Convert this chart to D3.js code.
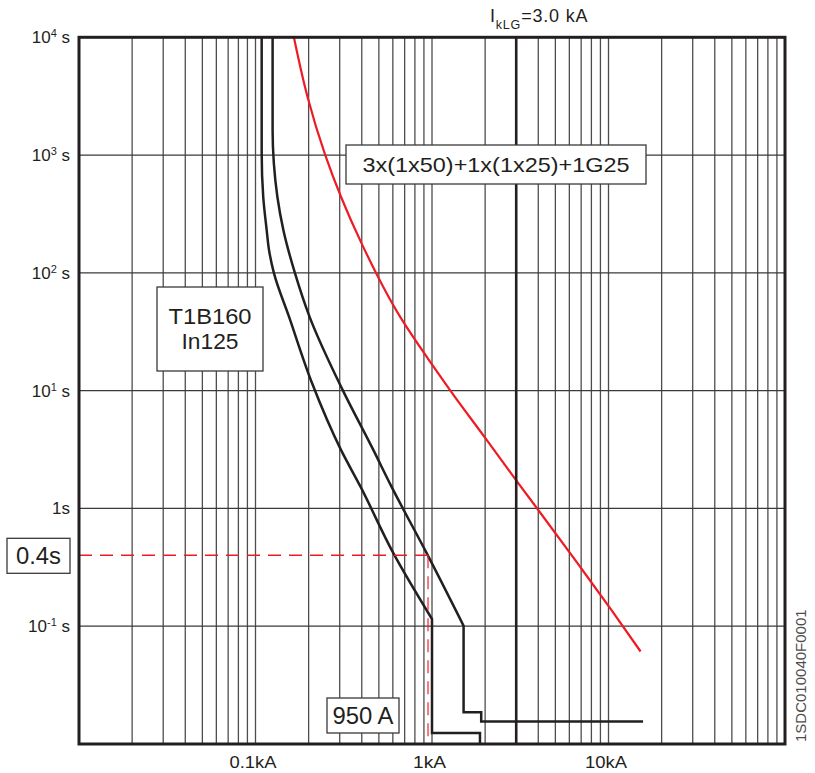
<!DOCTYPE html>
<html lang="en">
<head>
    <meta charset="UTF-8">
    <title>T1B160 In125 - cable protection</title>
    <script src="https://d3js.org/d3.v7.min.js"></script>
    <style>
        body { margin: 0; background: #fff; }
        svg { display: block; font-family: "Liberation Sans", Arial, Helvetica, sans-serif; }
    </style>
</head>
<body>
    <script>
        //Tick values and labels
        var xTicks = [0.1, 1, 10];
        var xTickLabels = ["0.1kA", "1kA", "10kA"];
        var yTicks = [10000, 1000, 100, 10, 1, 0.1];
        var yTickBase = ["10", "10", "10", "10", "1s", "10"];
        var yTickExp = ["4", "3", "2", "1", "", "-1"];

        //Cable withstand curve 3x(1x50)+1x(1x25)+1G25 (current kA, time s)
        var cableI = [0.165, 0.197, 0.2476, 0.305, 0.399, 0.659, 1.02, 1.265, 2.04, 3.08, 4.0, 6.9, 10.4, 15.2];
        var cableT = [10000, 3130, 1016, 443, 178, 42.5, 16.0, 10.1, 3.82, 1.64, 0.97, 0.32, 0.137, 0.061];

        //T1B160 In125 tripping band, lower edge
        var tripMinI = [0.1084, 0.1084, 0.1106, 0.1157, 0.1193, 0.1273, 0.1548, 0.209, 0.305, 0.3935, 0.604, 1.0];
        var tripMinT = [10000, 1040, 443, 231, 156, 99, 42.5, 11.6, 3.14, 1.53, 0.417, 0.115];
        var tripMinStepI = [1.0, 1.87, 1.87];
        var tripMinStepT = [0.0124, 0.0124, 0.01];

        //T1B160 In125 tripping band, upper edge
        var tripMaxI = [0.125, 0.125, 0.127, 0.133, 0.1438, 0.1675, 0.2023, 0.312, 0.465, 0.5896, 0.933, 1.51];
        var tripMaxT = [10000, 1630, 857, 443, 231, 99, 42.5, 10.1, 3.14, 1.53, 0.417, 0.1007];
        var tripMaxStepI = [1.51, 1.90, 1.90, 15.7];
        var tripMaxStepT = [0.0186, 0.0186, 0.0155, 0.0155];

        //Fault values
        var ikLG = 3.0;
        var faultI = 0.95;
        var faultT = 0.4;

        //SVG dimensions and plot edges
        var w = 815;
        var h = 773;
        var pLeft = 79, pTop = 37.3, pRight = 785, pBottom = 744;

        var svg = d3.select("body")
            .append("svg")
            .attr("width", w)
            .attr("height", h);

        var xScale = d3.scaleLog()
            .domain([0.01, 100])
            .range([pLeft, pRight]);

        var yScale = d3.scaleLog()
            .domain([0.01, 10000])
            .range([pBottom, pTop]);

        //Vertical grid: every 1..9 multiple
        svg.append("g")
            .selectAll("line")
            .data(xScale.ticks())
            .enter()
            .append("line")
            .attr("x1", function(d) { return xScale(d); })
            .attr("x2", function(d) { return xScale(d); })
            .attr("y1", pTop)
            .attr("y2", pBottom)
            .attr("stroke", "#4d4d4d")
            .attr("stroke-width", 1.3);

        //Horizontal grid: decades only
        svg.append("g")
            .selectAll("line")
            .data(yTicks)
            .enter()
            .append("line")
            .attr("x1", pLeft)
            .attr("x2", pRight)
            .attr("y1", function(d) { return yScale(d); })
            .attr("y2", function(d) { return yScale(d); })
            .attr("stroke", "#3a3a3a")
            .attr("stroke-width", 1.3);

        //Curves (time goes down as current grows, so interpolate along y)
        function pts(a, b) {
            return a.map(function(d, i) { return [xScale(d), yScale(b[i])]; });
        }
        var smooth = d3.line().curve(d3.curveMonotoneY);
        var straight = d3.line();

        svg.append("path")
            .attr("d", smooth(pts(cableI, cableT)))
            .attr("fill", "none")
            .attr("stroke", "#ed1c24")
            .attr("stroke-width", 2.2);

        function band(I, T, sI, sT) {
            return smooth(pts(I, T)) + straight(pts(sI, sT)).replace(/^M/, "L");
        }
        svg.append("path")
            .attr("d", band(tripMinI, tripMinT, tripMinStepI, tripMinStepT))
            .attr("fill", "none")
            .attr("stroke", "#231f20")
            .attr("stroke-width", 2.5);
        svg.append("path")
            .attr("d", band(tripMaxI, tripMaxT, tripMaxStepI, tripMaxStepT))
            .attr("fill", "none")
            .attr("stroke", "#231f20")
            .attr("stroke-width", 2.5);

        //IkLG line
        svg.append("line")
            .attr("x1", xScale(ikLG))
            .attr("x2", xScale(ikLG))
            .attr("y1", pTop)
            .attr("y2", pBottom)
            .attr("stroke", "#231f20")
            .attr("stroke-width", 2.6);

        //Red dashed guides
        svg.append("line")
            .attr("x1", pLeft)
            .attr("x2", xScale(faultI))
            .attr("y1", yScale(faultT))
            .attr("y2", yScale(faultT))
            .attr("stroke", "#ed1c24")
            .attr("stroke-width", 1.5)
            .attr("stroke-dasharray", "13,8");
        svg.append("line")
            .attr("x1", xScale(faultI))
            .attr("x2", xScale(faultI))
            .attr("y1", yScale(faultT))
            .attr("y2", pBottom)
            .attr("stroke", "#ed1c24")
            .attr("stroke-opacity", 0.6)
            .attr("stroke-width", 2)
            .attr("stroke-dasharray", "13,8");

        //Frame
        svg.append("rect")
            .attr("x", pLeft)
            .attr("y", pTop)
            .attr("width", pRight - pLeft)
            .attr("height", pBottom - pTop)
            .attr("fill", "none")
            .attr("stroke", "#231f20")
            .attr("stroke-width", 3);

        //Axes (the original lettering is a little wider than Liberation Sans)
        var xLabelWidth = [47, 33, 42];
        var xAxis = svg.append("g")
            .attr("transform", "translate(-3," + pBottom + ")")
            .call(d3.axisBottom(xScale)
                .tickValues(xTicks)
                .tickSize(0)
                .tickPadding(12)
                .tickFormat(function(d, i) { return xTickLabels[i]; }));
        xAxis.select(".domain").remove();
        xAxis.selectAll("text")
            .attr("fill", "#231f20")
            .attr("textLength", function(d, i) { return xLabelWidth[i]; })
            .attr("lengthAdjust", "spacingAndGlyphs")
            .style("font-size", "16.5px")
            .style("font-family", "'Liberation Sans', Arial, sans-serif");

        var yAxis = svg.append("g")
            .attr("transform", "translate(" + pLeft + ",0)")
            .call(d3.axisLeft(yScale)
                .tickValues(yTicks)
                .tickSize(0)
                .tickPadding(9));
        yAxis.select(".domain").remove();
        yAxis.selectAll("text")
            .attr("fill", "#231f20")
            .style("font-size", "17px")
            .style("font-family", "'Liberation Sans', Arial, sans-serif")
            .each(function(d, i) {
                var t = d3.select(this);
                t.text(null);
                if (yTickExp[i]) {
                    t.append("tspan").text(yTickBase[i]);
                    t.append("tspan").attr("dy", -6).style("font-size", "11px").text(yTickExp[i]);
                    t.append("tspan").attr("dy", 6).text(" s");
                } else {
                    t.text(yTickBase[i]);
                }
            });

        //IkLG label
        var ik = svg.append("text")
            .attr("x", 490)
            .attr("y", 22)
            .attr("fill", "#231f20")
            .style("font-size", "18px")
            .style("letter-spacing", "0.8px");
        ik.append("tspan").text("I");
        ik.append("tspan").attr("dy", 7).style("font-size", "12.5px").text("kLG");
        ik.append("tspan").attr("dy", -7).text("=3.0 kA");

        //Boxed labels
        function box(x, y, bw, bh, lines, widths, size, lh) {
            svg.append("rect")
                .attr("x", x).attr("y", y)
                .attr("width", bw).attr("height", bh)
                .attr("fill", "#fff")
                .attr("stroke", "#3a3a3a")
                .attr("stroke-width", 1.3);
            var n = lines.length;
            lines.forEach(function(s, i) {
                svg.append("text")
                    .attr("x", x + bw / 2)
                    .attr("y", y + bh / 2 + (i - (n - 1) / 2) * lh + size * 0.36)
                    .attr("text-anchor", "middle")
                    .attr("textLength", widths[i])
                    .attr("lengthAdjust", "spacingAndGlyphs")
                    .attr("fill", "#231f20")
                    .style("font-size", size + "px")
                    .text(s);
            });
        }
        box(346, 145, 300, 39, ["3x(1x50)+1x(1x25)+1G25"], [267], 21, 0);
        box(157, 287, 106, 84, ["T1B160", "In125"], [83, 57], 22, 25);
        box(7, yScale(faultT) - 17, 63, 35, ["0.4s"], [45], 23, 0);
        box(327, 698, 72, 35, ["950 A"], [61], 23, 0);

        //Figure code
        svg.append("text")
            .attr("transform", "translate(806,742) rotate(-90)")
            .attr("fill", "#4d4d4d")
            .style("font-size", "15px")
            .text("1SDC010040F0001");
    </script>
</body>
</html>
